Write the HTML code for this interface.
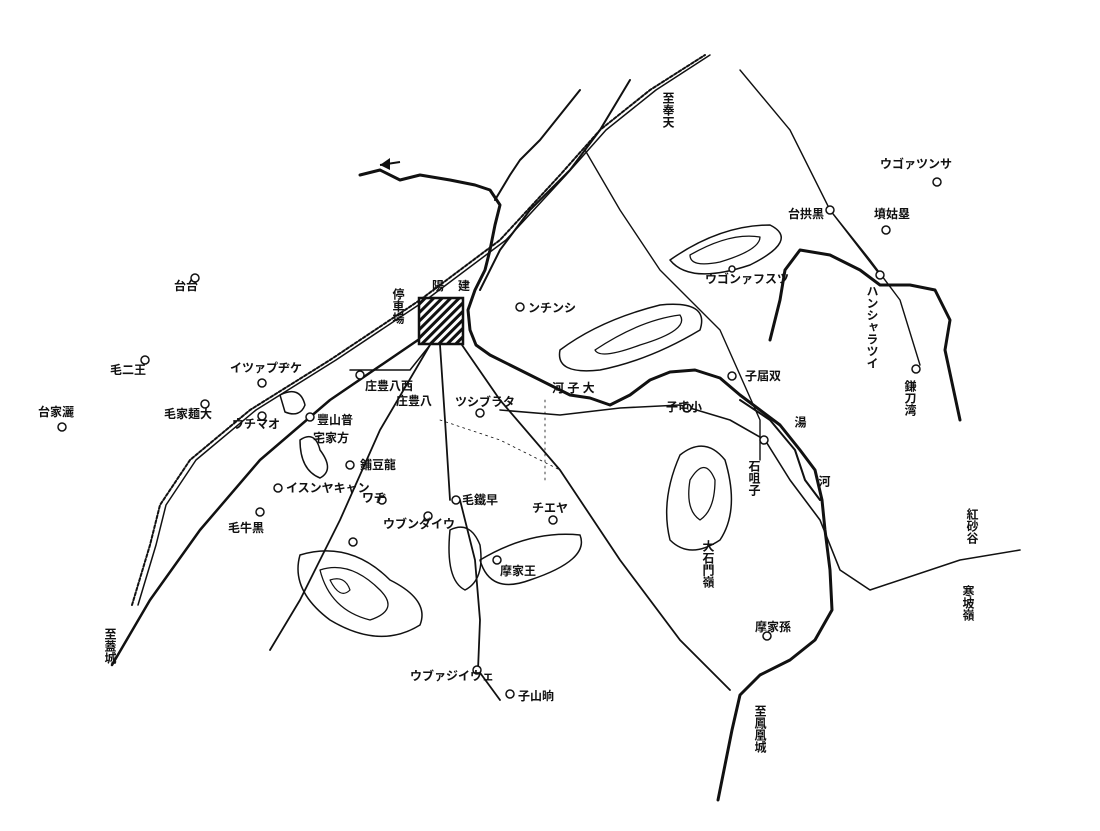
<!DOCTYPE html>
<html><head><meta charset="utf-8"><style>
html,body{margin:0;padding:0;background:#fff;}
svg{display:block}
text{font-family:"Liberation Sans","Noto Sans CJK JP",sans-serif;font-weight:bold;fill:#111;font-size:12px}
</style></head><body>
<svg width="1100" height="831" viewBox="0 0 1100 831" xmlns="http://www.w3.org/2000/svg">
<defs>
<pattern id="h" width="6" height="6" patternUnits="userSpaceOnUse" patternTransform="rotate(45)">
<rect width="6" height="6" fill="#fff"/><rect width="3" height="6" fill="#111"/></pattern>
</defs>
<rect width="1100" height="831" fill="#fff"/>
<g fill="none" stroke="#111" stroke-linecap="round" stroke-linejoin="round">
<path d="M132 605 L150 545 L160 505 L190 460 L250 410 L330 360 L420 300 L500 240 L560 175 L600 130 L650 90 L705 55" stroke-width="2" stroke-dasharray="3 2"/>
<path d="M138 605 L156 545 L166 505 L196 460 L256 410 L336 360 L426 300 L506 240 L566 175 L606 130 L656 90 L710 55" stroke-width="1.5"/>
<path d="M112 665 L150 600 L200 530 L260 460 L330 400 L418 340" stroke-width="2.5"/>
<path d="M480 290 L500 250 L530 210 L570 170 L600 130 L630 80" stroke-width="2"/>
<path d="M430 345 L380 430 L340 520 L300 600 L270 650" stroke-width="1.8"/>
<path d="M440 345 L445 420 L450 500" stroke-width="1.8"/>
<path d="M462 345 L500 400 L560 470 L620 560 L680 640 L730 690" stroke-width="1.8"/>
<path d="M460 500 L475 560 L480 620 L478 670 L500 700" stroke-width="1.8"/>
<path d="M350 370 L410 370 L430 345" stroke-width="1.5"/>
<path d="M500 410 L560 415 L620 408 L680 405 L730 420 L765 440 L790 480 L820 520 L840 570 L870 590 L960 560 L1020 550" stroke-width="1.6"/>
<path d="M585 150 L620 210 L660 270 L720 330 L760 420 L760 460" stroke-width="1.4"/>
<path d="M740 70 L790 130 L830 210 L870 260 L900 300 L920 365" stroke-width="1.4"/>
<path d="M830 210 L880 275" stroke-width="1.4"/>
<path d="M360 175 L380 170 L400 180 L420 175 L450 180 L475 185 L490 190 L500 205 L495 225 L490 250 L485 270 L475 290 L468 310 L470 330 L476 345 L490 355 L510 365 L530 375 L550 385 L570 395 L590 398 L610 405 L630 395 L650 380 L670 372 L695 370 L720 378 L740 395 L760 410 L780 425 L800 450 L815 470 L822 500 L825 530 L830 570 L832 610 L815 640 L790 660 L760 675 L740 695 L732 730 L725 765 L718 800" stroke-width="3"/>
<path d="M495 200 L510 175 L520 160 L540 140 L560 115 L580 90" stroke-width="2"/>
<path d="M770 340 L780 300 L785 270 L800 250 L830 255 L860 270 L880 285 L910 285 L935 290 L950 320 L945 350 L960 420" stroke-width="3"/>
<path d="M740 400 L770 420 L795 450 L805 480 L820 500" stroke-width="2"/>
<path d="M560 350 Q600 320 660 305 Q710 300 700 330 Q650 360 600 370 Q555 375 560 350Z" stroke-width="1.5"/>
<path d="M595 350 Q640 320 680 315 Q690 330 640 345 Q600 360 595 350Z" stroke-width="1.3"/>
<path d="M670 260 Q720 225 770 225 Q800 240 750 265 Q690 285 670 260Z" stroke-width="1.5"/>
<path d="M690 255 Q730 232 760 237 Q760 250 720 262 Q690 268 690 255Z" stroke-width="1.3"/>
<path d="M680 455 Q705 435 725 460 Q740 510 720 540 Q690 560 670 540 Q660 500 680 455Z" stroke-width="1.5"/>
<path d="M690 480 Q705 455 715 480 Q715 510 700 520 Q685 510 690 480Z" stroke-width="1.3"/>
<path d="M300 555 Q350 540 390 580 Q430 600 420 625 Q380 650 330 620 Q290 590 300 555Z" stroke-width="1.5"/>
<path d="M320 570 Q350 560 380 590 Q400 610 370 620 Q330 610 320 570Z" stroke-width="1.3"/>
<path d="M330 580 Q345 575 350 590 Q340 600 330 580Z" stroke-width="1.2"/>
<path d="M450 530 Q470 520 480 545 Q485 580 465 590 Q445 580 450 530Z" stroke-width="1.5"/>
<path d="M480 560 Q530 530 580 535 Q590 560 530 580 Q490 595 480 560Z" stroke-width="1.5"/>
<path d="M300 440 Q315 430 320 450 Q335 470 320 478 Q300 470 300 440Z" stroke-width="1.5"/>
<path d="M280 395 Q300 385 305 405 Q300 418 285 412Z" stroke-width="1.5"/>
<path d="M440 420 L500 440 L560 470" stroke-width="0.8" stroke-dasharray="2 4"/>
<path d="M545 400 L545 480" stroke-width="0.8" stroke-dasharray="2 4"/>
</g>
<path d="M380 165 L400 162" stroke="#111" stroke-width="2"/>
<path d="M380 165 L390 158 L390 170Z" fill="#111"/>
<rect x="419" y="298" width="44" height="46" fill="url(#h)" stroke="#111" stroke-width="2.5"/>
<g fill="#fff" stroke="#111" stroke-width="1.5">
<circle cx="195" cy="278" r="4"/><circle cx="145" cy="360" r="4"/><circle cx="205" cy="404" r="4"/><circle cx="62" cy="427" r="4"/>
<circle cx="262" cy="383" r="4"/><circle cx="262" cy="416" r="4"/><circle cx="350" cy="465" r="4"/><circle cx="278" cy="488" r="4"/>
<circle cx="382" cy="500" r="4"/><circle cx="428" cy="516" r="4"/><circle cx="353" cy="542" r="4"/><circle cx="260" cy="512" r="4"/>
<circle cx="480" cy="413" r="4"/><circle cx="553" cy="520" r="4"/><circle cx="520" cy="307" r="4"/><circle cx="732" cy="376" r="4"/>
<circle cx="687" cy="408" r="4"/><circle cx="764" cy="440" r="4"/><circle cx="830" cy="210" r="4"/><circle cx="886" cy="230" r="4"/>
<circle cx="937" cy="182" r="4"/><circle cx="880" cy="275" r="4"/><circle cx="916" cy="369" r="4"/><circle cx="767" cy="636" r="4"/>
<circle cx="477" cy="670" r="4"/><circle cx="510" cy="694" r="4"/><circle cx="456" cy="500" r="4"/><circle cx="497" cy="560" r="4"/>
<circle cx="360" cy="375" r="4"/><circle cx="310" cy="417" r="4"/><circle cx="732" cy="269" r="3"/>
</g>
<text x="668" y="92" writing-mode="tb" font-size="12">至奉天</text>
<text x="432" y="290" font-size="18" letter-spacing="14">陽建</text>
<text x="398" y="288" writing-mode="tb">停車場</text>
<text x="528" y="312">ンチンシ</text>
<text x="174" y="290">台台</text>
<text x="110" y="374">毛二王</text>
<text x="164" y="418">毛家麺大</text>
<text x="38" y="416">台家灑</text>
<text x="230" y="372">イツァプヂケ</text>
<text x="232" y="428">ウチマオ</text>
<text x="317" y="424">豐山普</text>
<text x="313" y="442">宅家方</text>
<text x="360" y="469">鋪豆龍</text>
<text x="286" y="492">イスンヤキャン</text>
<text x="362" y="502">ワヂ</text>
<text x="383" y="528">ウブンダイウ</text>
<text x="228" y="532">毛牛黒</text>
<text x="365" y="390">庄豊八西</text>
<text x="396" y="405">庄豊八</text>
<text x="455" y="406">ツシブラタ</text>
<text x="462" y="504">毛鐵早</text>
<text x="532" y="512">チエヤ</text>
<text x="500" y="575">摩家王</text>
<text x="552" y="392" font-size="16">河 子 大</text>
<text x="745" y="380">子屆双</text>
<text x="666" y="411">子屯小</text>
<text x="754" y="460" writing-mode="tb">石咀子</text>
<text x="708" y="540" writing-mode="tb">大石門嶺</text>
<text x="800" y="416" writing-mode="tb">湯</text>
<text x="824" y="475" writing-mode="tb">河</text>
<text x="972" y="508" writing-mode="tb" font-size="11">紅砂谷</text>
<text x="968" y="585" writing-mode="tb" font-size="15">寒坡嶺</text>
<text x="755" y="631">摩家孫</text>
<text x="788" y="218">台拱黒</text>
<text x="874" y="218">墳姑塁</text>
<text x="880" y="168">ウゴァツンサ</text>
<text x="705" y="283" font-size="10">ウゴンァフスツ</text>
<text x="872" y="285" writing-mode="tb">ハンシャラツイ</text>
<text x="910" y="380" writing-mode="tb">鎌刀湾</text>
<text x="410" y="680">ウブァジイウェ</text>
<text x="518" y="700">子山晌</text>
<text x="760" y="705" writing-mode="tb">至鳳凰城</text>
<text x="110" y="628" writing-mode="tb">至蓋城</text>
</svg>
</body></html>
